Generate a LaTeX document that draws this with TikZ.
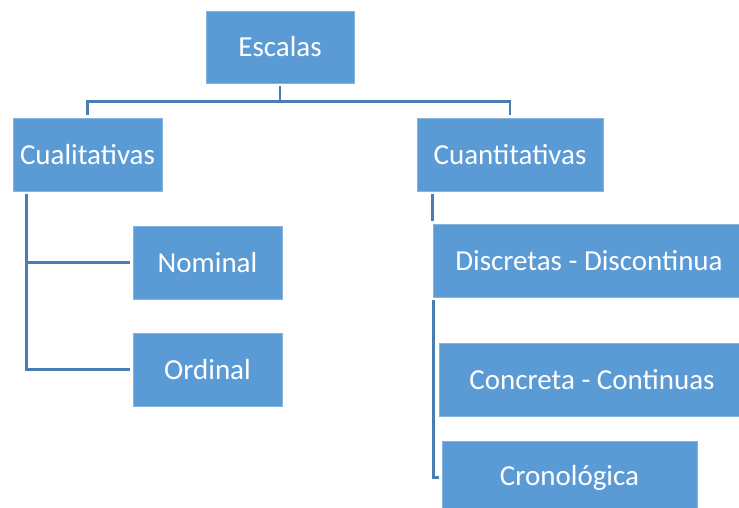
\documentclass[tikz,border=0pt]{standalone}
\usepackage{fontspec}
\setmainfont{Carlito}
\usepackage{xcolor}
\usepackage{tikz}
\usetikzlibrary{shapes,arrows}
\definecolor{boxblue}{HTML}{5B9BD5}
\definecolor{linkblue}{HTML}{4A7EB3}
\tikzstyle{block} = [rectangle, fill=boxblue, draw=boxblue!75!white, line width=0.6pt, text=white,
    inner sep=0pt, minimum width=149pt, minimum height=73pt, font=\fontsize{29}{35}\selectfont]
\tikzstyle{line} = [draw, linkblue, line width=2.6pt, shorten <=3pt, shorten >=3pt]

\begin{document}
\begin{tikzpicture}[node distance = 100pt, auto]
    \useasboundingbox (0,0) rectangle (739pt,-508pt);
    % Place nodes
    \node [block, minimum width=148pt, minimum height=72pt] (esc) at (280pt,-47pt) {Escalas};
    \node [block, below of=esc, node distance=107.5pt, xshift=-192.5pt] (cual) {Cualitativas};
    \node [block, right of=cual, node distance=422.5pt, minimum width=186pt] (cuan) {Cuantitativas};
    \node [block, below of=cual, node distance=108pt, xshift=120pt] (nom) {Nominal};
    \node [block, below of=nom, node distance=107pt] (ord) {Ordinal};
    \node [block, below of=cuan, node distance=106pt, xshift=79pt, minimum width=312pt] (disc) {Discretas - Discontinua};
    \node [block, below of=disc, node distance=119pt, xshift=3pt, minimum width=306pt] (conc) {Concreta - Continuas};
    \node [block, below of=conc, node distance=98pt, xshift=-22.5pt, minimum width=255pt] (cron) {Cronológica};
    \coordinate [xshift=13.5pt] (cualtrunk) at (cual.south west);
    \coordinate [xshift=16pt] (cuantrunk) at (cuan.south west);
    \coordinate [xshift=1pt] (disctrunk) at (disc.south west);

    % Draw edges
    \path [line] (esc.south) -- ++(0,-18pt) -| (cual.north);
    \path [line] (esc.south) -- ++(0,-18pt) -| (cuan.north);
    \path [line] (cualtrunk) |- (nom.west);
    \path [line] (cualtrunk) |- (ord.west);
    \path [line] (cuantrunk) -- (cuantrunk |- disc.north);
    \path [line] (disctrunk) |- (cron.west);
\end{tikzpicture}
\end{document}
